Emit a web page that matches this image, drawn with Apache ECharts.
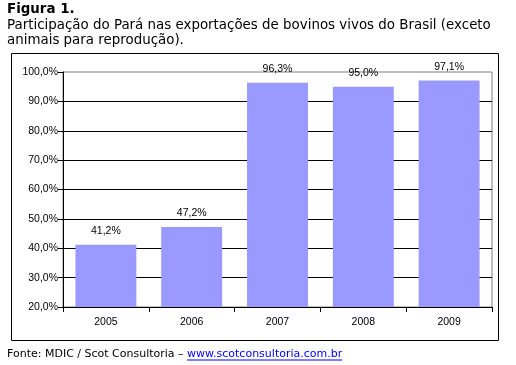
<!DOCTYPE html>
<html><head><meta charset="utf-8">
<script src="https://cdn.jsdelivr.net/npm/echarts@6/dist/echarts.min.js"></script>
<style>html,body{margin:0;padding:0;background:#fff}#c{width:516px;height:365px}</style>
</head><body><div id="c"></div>
<script>
var categories = ['2005','2006','2007','2008','2009'];
var shareValues = [41.2, 47.2, 96.3, 95.0, 97.1];
var yTicks = [20,30,40,50,60,70,80,90,100];

var titleFont = '"DejaVu Sans", Verdana, sans-serif';
var axisFont = '"Liberation Sans", Tahoma, sans-serif';
function pct(v){ return Number(v).toFixed(1).replace('.', ',') + '%'; }

var footA = 'Fonte: MDIC / Scot Consultoria \u2013 ';
var footB = 'www.scotconsultoria.com.br';
var cv = document.createElement('canvas').getContext('2d');
cv.font = '11px ' + titleFont;
var wA = cv.measureText(footA).width, wB = cv.measureText(footB).width;
var fx = 7, fy = 354;

var chart = echarts.init(document.getElementById('c'), null, {renderer:'canvas'});
chart.setOption({
  animation: false,
  backgroundColor: '#fff',
  grid: {left: 63, top: 72, right: 24, bottom: 58, show: true, borderColor: '#808080', borderWidth: 1, backgroundColor: 'transparent'},
  xAxis: {
    type: 'category', data: categories,
    axisLine: {lineStyle: {color: '#000', width: 1}},
    axisTick: {show: true, length: 5, lineStyle: {color: '#000'}},
    axisLabel: {color: '#000', fontFamily: axisFont, fontSize: 10.5, margin: 10}
  },
  yAxis: {
    type: 'value', min: 20, max: 100, interval: 10,
    axisLine: {show: true, lineStyle: {color: '#000', width: 1}},
    axisTick: {show: true, length: 5, inside: false, lineStyle: {color: '#000'}},
    axisLabel: {color: '#000', fontFamily: axisFont, fontSize: 10.5, margin: 5, formatter: pct},
    splitLine: {show: true, showMaxLine: false, lineStyle: {color: '#000', width: 1}}
  },
  series: [{
    type: 'bar', data: shareValues, barCategoryGap: '29%',
    itemStyle: {color: '#9999FF'},
    label: {show: true, position: 'top', distance: 8, color: '#000', fontFamily: axisFont, fontSize: 10.5,
      formatter: function(p){ return pct(p.value); }}
  }],
  graphic: [
    {type: 'rect', shape: {x: 11.5, y: 53.5, width: 487, height: 287}, style: {fill: 'none', stroke: '#000', lineWidth: 1}, z: -1},
    {type: 'text', left: 7, top: 3, style: {text: 'Figura 1.', font: 'bold 13.4px ' + titleFont, fill: '#000'}},
    {type: 'text', left: 7, top: 18, style: {text: 'Participação do Pará nas exportações de bovinos vivos do Brasil (exceto\nanimais para reprodução).', font: '13.4px ' + titleFont, lineHeight: 15, fill: '#000'}},
    {type: 'text', x: fx, y: fy, style: {text: footA, font: '11px ' + titleFont, fill: '#000', textVerticalAlign: 'middle'}},
    {type: 'text', x: fx + wA, y: fy, style: {text: footB, font: '11px ' + titleFont, fill: '#0000FF', textVerticalAlign: 'middle'}},
    {type: 'line', shape: {x1: fx + wA, y1: fy + 6, x2: fx + wA + wB, y2: fy + 6}, style: {stroke: '#0000FF', lineWidth: 1}}
  ]
});
</script></body></html>
